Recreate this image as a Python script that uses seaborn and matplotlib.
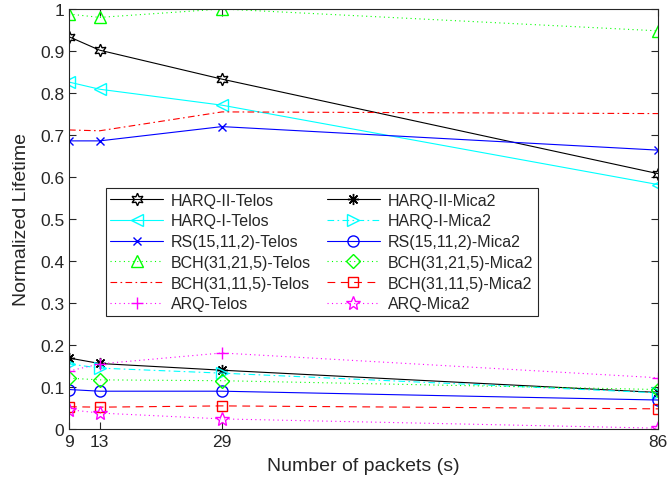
import matplotlib
matplotlib.use("Agg")
import matplotlib.pyplot as plt
import seaborn as sns
import numpy as np

packets = [9, 13, 29, 86]

harq2_telos = [0.934, 0.902, 0.833, 0.608]
harq2_mica2 = [0.169, 0.156, 0.140, 0.087]
harq1_telos = [0.826, 0.809, 0.771, 0.582]
harq1_mica2 = [0.155, 0.145, 0.133, 0.086]
rs_telos = [0.686, 0.686, 0.720, 0.664]
rs_mica2 = [0.094, 0.090, 0.090, 0.069]
bch21_telos = [0.988, 0.980, 1.000, 0.948]
bch21_mica2 = [0.121, 0.117, 0.115, 0.094]
bch11_telos = [0.712, 0.710, 0.755, 0.751]
bch11_mica2 = [0.053, 0.052, 0.055, 0.048]
arq_telos = [0.138, 0.155, 0.181, 0.122]
arq_mica2 = [0.046, 0.038, 0.024, 0.002]

labels = ["HARQ-II-Telos", "HARQ-II-Mica2", "HARQ-I-Telos", "HARQ-I-Mica2",
          "RS(15,11,2)-Telos", "RS(15,11,2)-Mica2", "BCH(31,21,5)-Telos",
          "BCH(31,21,5)-Mica2", "BCH(31,11,5)-Telos", "BCH(31,11,5)-Mica2",
          "ARQ-Telos", "ARQ-Mica2"]
values = [harq2_telos, harq2_mica2, harq1_telos, harq1_mica2, rs_telos, rs_mica2,
          bch21_telos, bch21_mica2, bch11_telos, bch11_mica2, arq_telos, arq_mica2]

dot = (0, (1, 3))
styles = [
    dict(color="k", marker=(6, 1, 0), ls="-", ms=9),
    dict(color="k", marker=(8, 2, 0), ls="-", ms=8),
    dict(color="#00FFFF", marker="<", ls="-", ms=9),
    dict(color="#00FFFF", marker=">", ls=(0, (6, 3, 1.5, 3)), ms=9),
    dict(color="#0000FF", marker="x", ls="-", ms=6),
    dict(color="#0000FF", marker="o", ls="-", ms=8),
    dict(color="#00FF00", marker="^", ls=dot, ms=9),
    dict(color="#00FF00", marker="D", ls=dot, ms=7),
    dict(color="#FF0000", marker=None, ls=(0, (6, 3, 1.5, 3)), ms=7),
    dict(color="#FF0000", marker="s", ls=(0, (7, 5)), ms=7),
    dict(color="#FF00FF", marker="+", ls=dot, ms=9),
    dict(color="#FF00FF", marker="*", ls=dot, ms=10),
]

sns.set_style("white")
plt.rcParams['font.family'] = ['Liberation Sans', 'DejaVu Sans']

fig = plt.figure(figsize=(6.68, 4.85), dpi=100)
ax = fig.add_axes([69/668, 1 - 430/485, 589/668, 420/485])

for lab, vals, st in zip(labels, values, styles):
    kw = dict(color=st["color"], linestyle=st["ls"], linewidth=0.8)
    if st["marker"] is not None:
        kw.update(marker=st["marker"], markersize=st["ms"],
                  markerfacecolor="none", markeredgecolor=st["color"],
                  markeredgewidth=1.0)
    sns.lineplot(x=packets, y=vals, ax=ax, label=lab, **kw)

ax.set_xlim(9, 86)
ax.set_ylim(0, 1)
ax.set_xticks(packets)
ax.set_yticks(np.round(np.arange(0, 1.01, 0.1), 1))
ax.set_yticklabels(["0", "0.1", "0.2", "0.3", "0.4", "0.5", "0.6", "0.7", "0.8", "0.9", "1"])
ax.tick_params(direction="in", length=5, width=0.8, labelsize=12.5,
               colors="#262626", top=True, right=True, left=True, bottom=True)
for sp in ax.spines.values():
    sp.set_visible(True)
    sp.set_color("#262626")
    sp.set_linewidth(0.8)
ax.set_xlabel("Number of packets (s)", fontsize=14, color="#262626", labelpad=6)
ax.set_ylabel("Normalized Lifetime", fontsize=14, color="#262626", labelpad=7)

handles, labs = ax.get_legend_handles_labels()
order = list(range(0, 12, 2)) + list(range(1, 12, 2))
leg = ax.legend([handles[i] for i in order], [labs[i] for i in order],
                ncol=2, loc="upper left", bbox_to_anchor=(0.062, 0.574),
                borderaxespad=0, fontsize=11.5, frameon=True, fancybox=False,
                edgecolor="#262626", framealpha=1, handlelength=3.3,
                columnspacing=1.0, labelspacing=0.36, handletextpad=0.5,
                borderpad=0.3)
leg.get_frame().set_linewidth(0.8)

fig.savefig("out.png", dpi=100)
